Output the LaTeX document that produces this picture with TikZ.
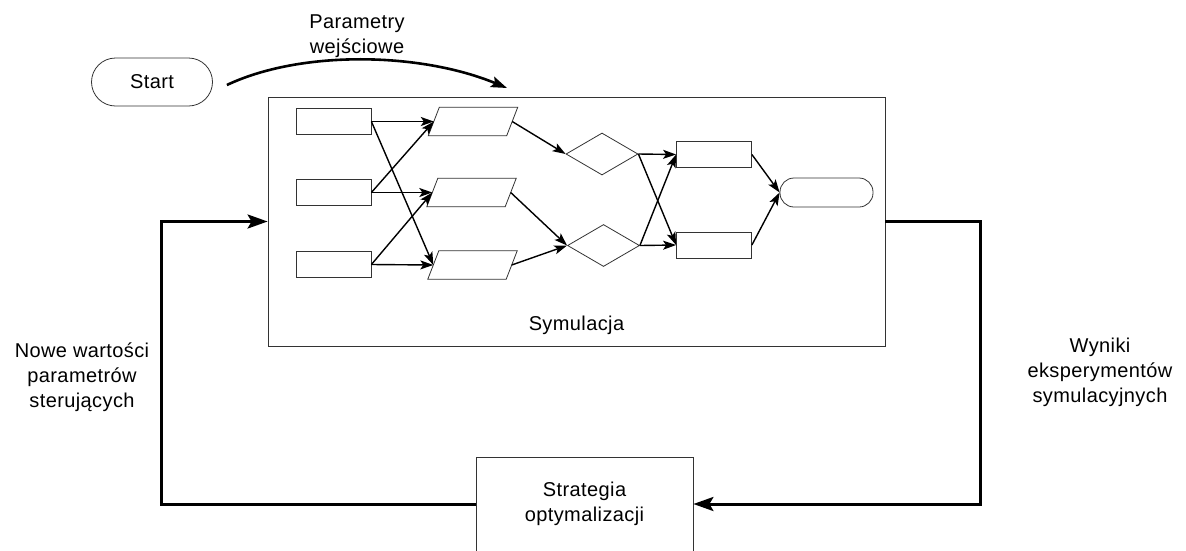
\documentclass[tikz,border=0pt]{standalone}
\usepackage{fontspec}
\setmainfont[LetterSpace=2]{Liberation Sans}
\usetikzlibrary{arrows.meta,shapes.geometric}

\tikzset{
	ksztalt/.style={draw=black!80,line width=0.8pt,inner sep=0pt},
	blok/.style={ksztalt,rectangle,minimum width=75pt,minimum height=26pt},
	dane/.style={inner sep=0pt,rectangle,minimum width=77pt,minimum height=27pt},
	decyzja/.style={ksztalt,diamond,minimum width=72pt,minimum height=42pt},
	koniec/.style={ksztalt,rectangle,rounded corners=14pt,minimum width=93pt,minimum height=29pt},
	opis/.style={align=center,font=\fontsize{20}{25}\selectfont},
	petla/.style={line width=3pt,-{Stealth[length=20pt,width=14pt,inset=4pt]}}
}

\begin{document}
\begin{tikzpicture}[x=1pt,y=-1pt,->,>={Stealth[length=13pt,width=9pt,inset=3pt]},
	line width=1.4pt]
	\useasboundingbox (0,0) rectangle (1186,550);

	% start i parametry wejsciowe
	\node[ksztalt,rounded corners=24pt,minimum width=121pt,minimum height=48pt,opis](start)
		at (152,82){Start};
	\node[opis](parwej) at (357,36){Parametry\\wejściowe};
	\coordinate (parin) at (507,88);
	\draw[line width=2.6pt,-{Stealth[length=16pt,width=11pt,inset=3pt]}]
		([xshift=14pt,yshift=-3pt]start.east) .. controls +(74,-35) and +(-87,-36) .. (parin);

	% model symulacyjny
	\node[ksztalt,minimum width=617pt,minimum height=249pt](sim) at (576.5,221.5){};
	\node[opis,anchor=base](simlab) at ([yshift=16pt]sim.south){Symulacja};

	\node[blok](r1) at (333.5,121.5){};
	\node[blok](r2) at (333.5,192.5){};
	\node[blok](r3) at (333.5,264.5){};
	\node[dane](p1) at (473,121.5){};
	\node[dane](p2) at (471.5,192.5){};
	\node[dane](p3) at (472.5,265){};
	\foreach \p in {p1,p2,p3}
		\draw[ksztalt,-] ([xshift=-5.5pt]\p.south west) -- ([xshift=5.5pt]\p.north west)
			-- ([xshift=5.5pt]\p.north east) -- ([xshift=-5.5pt]\p.south east) -- cycle;
	\node[decyzja](d1) at (602,154){};
	\node[decyzja](d2) at (603.5,245.5){};
	\node[blok](w1) at (714,154.5){};
	\node[blok](w2) at (714,245){};
	\node[koniec](stop) at (826.5,192.5){};

	\path (r1.east) edge (p1.west)
			  edge (p3.west)
		  (r2.east) edge (p1.west)
			  edge (p2.west)
		  (r3.east) edge (p2.west)
			  edge (p3.west)
		  (p1.east) edge (d1.west)
		  (p2.east) edge (d2.west)
		  (p3.east) edge (d2.west)
		  (d1.east) edge (w1.west)
			  edge (w2.west)
		  (d2.east) edge (w1.west)
			  edge (w2.west)
		  (w1.east) edge (stop.west)
		  (w2.east) edge (stop.west);

	% petla optymalizacji
	\node[ksztalt,minimum width=217pt,minimum height=94pt,opis](strat) at (584.5,504)
		{Strategia\\optymalizacji};
	\draw[petla] (sim.east) -- ++(95,0) |- (strat.east);
	\draw[petla] (strat.west) -- ++(-314,0) |- (sim.west);

	\node[opis](nowe) at (82,377){Nowe wartości\\parametrów\\sterujących};
	\node[opis](wyniki) at (1100,372){Wyniki\\eksperymentów\\symulacyjnych};
\end{tikzpicture}
\end{document}
